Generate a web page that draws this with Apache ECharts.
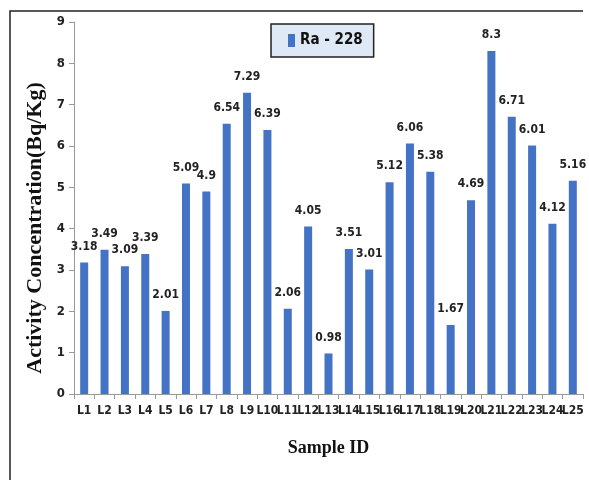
<!DOCTYPE html>
<html>
<head>
<meta charset="utf-8">
<script src="https://cdn.jsdelivr.net/npm/echarts@6/dist/echarts.min.js"></script>
<style>html,body{margin:0;padding:0;background:#fff;}#c{width:589px;height:480px;}</style>
</head>
<body>
<div id="c"></div>
<script>
const categories = ['L1','L2','L3','L4','L5','L6','L7','L8','L9','L10','L11','L12','L13','L14','L15','L16','L17','L18','L19','L20','L21','L22','L23','L24','L25'];
const ra228 = [3.18,3.49,3.09,3.39,2.01,5.09,4.9,6.54,7.29,6.39,2.06,4.05,0.98,3.51,3.01,5.12,6.06,5.38,1.67,4.69,8.3,6.71,6.01,4.12,5.16];
const seriesName = 'Ra - 228';
const yTicks = {min:0, max:9, interval:1};

const narrow = '"DejaVu Sans Condensed", "Liberation Sans Narrow", sans-serif';
const serif = '"Liberation Serif", "DejaVu Serif", serif';
const chart = echarts.init(document.getElementById('c'), null, {renderer:'canvas'});
chart.setOption({
  animation:false,
  backgroundColor:'#fff',
  graphic:[{
    type:'polyline',
    shape:{points:[[10,480],[10,11],[583,11]]},
    style:{stroke:'#222', lineWidth:1.5, fill:null}
  }],
  legend:{
    data:[seriesName],
    top:24, left:271,
    backgroundColor:'#dfe8f5',
    borderColor:'#222', borderWidth:1.5,
    padding:[9,11,9,17],
    itemWidth:7, itemHeight:13,
    itemGap:5,
    textStyle:{fontFamily:narrow, fontWeight:'bold', fontSize:15, color:'#111'},
    icon:'rect'
  },
  grid:{left:74, right:6, top:22, bottom:86},
  xAxis:{
    type:'category',
    data:categories,
    name:'Sample ID',
    nameLocation:'middle',
    nameGap:45,
    nameTextStyle:{fontFamily:serif, fontWeight:'bold', fontSize:18, color:'#111'},
    axisLine:{lineStyle:{color:'#999'}},
    axisTick:{show:true, alignWithLabel:false, length:5, lineStyle:{color:'#999'}},
    axisLabel:{interval:0, fontFamily:narrow, fontWeight:'bold', fontSize:12, color:'#222', margin:11}
  },
  yAxis:{
    type:'value',
    min:yTicks.min, max:yTicks.max, interval:yTicks.interval,
    name:'Activity Concentration(Bq/Kg)',
    nameLocation:'middle',
    nameGap:22,
    nameTextStyle:{fontFamily:serif, fontWeight:'bold', fontSize:22, color:'#111', padding:[0,40,0,0]},
    axisLine:{show:true, lineStyle:{color:'#999'}},
    axisTick:{show:true, length:5, lineStyle:{color:'#999'}},
    splitLine:{show:false},
    axisLabel:{fontFamily:narrow, fontWeight:'bold', fontSize:13, color:'#222', margin:9}
  },
  series:[{
    name:seriesName,
    type:'bar',
    data:ra228,
    barWidth:8,
    itemStyle:{color:'#4472C4'},
    label:{show:true, position:'top', distance:10, fontFamily:narrow, fontWeight:'bold', fontSize:12, color:'#222'}
  }]
});
</script>
</body>
</html>
